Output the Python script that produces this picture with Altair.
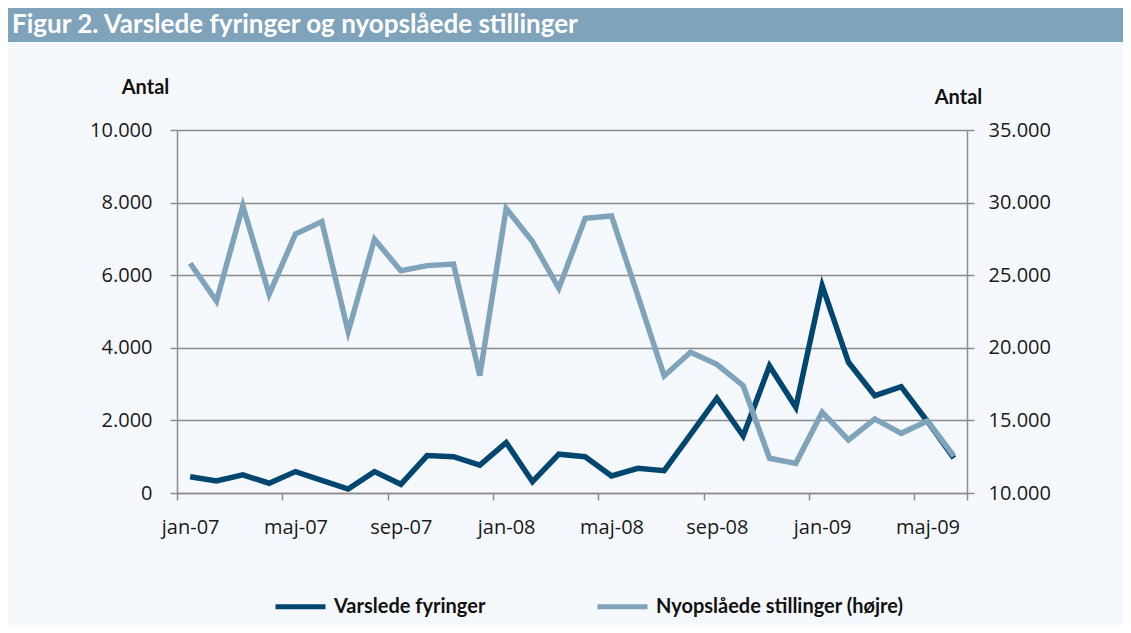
import altair as alt
import pandas as pd

months = ["jan-07", "feb-07", "mar-07", "apr-07", "maj-07", "jun-07", "jul-07", "aug-07",
          "sep-07", "okt-07", "nov-07", "dec-07", "jan-08", "feb-08", "mar-08", "apr-08",
          "maj-08", "jun-08", "jul-08", "aug-08", "sep-08", "okt-08", "nov-08", "dec-08",
          "jan-09", "feb-09", "mar-09", "apr-09", "maj-09", "jun-09"]
fyringer = [450, 330, 500, 270, 590, 350, 110, 590, 240, 1030, 1000, 770, 1390, 310, 1070,
            1000, 470, 680, 615, 1610, 2610, 1570, 3500, 2360, 5710, 3600, 2680, 2930, 1970, 960]
stillinger = [25820, 23220, 29770, 23680, 27840, 28690, 21110, 27470, 25310, 25660, 25770,
              18080, 29600, 27310, 24100, 28920, 29080, 23600, 18060, 19690, 18860, 17390,
              12390, 12040, 15560, 13650, 15100, 14110, 14960, 12550]
series_names = ["Varslede fyringer", "Nyopslåede stillinger (højre)"]
series_colors = ["#00466f", "#7fa3ba"]
left_ticks = [0, 2000, 4000, 6000, 8000, 10000]
right_ticks = [10000, 15000, 20000, 25000, 30000, 35000]
title_text = "Figur 2. Varslede fyringer og nyopslåede stillinger"
axis_title = "Antal"

df = pd.DataFrame({"idx": list(range(len(months))), "month": months,
                   "fyr": fyringer, "still": stillinger})

# x axis: labels at every 4th month centre, ticks at band edges
x_values = []
for i in range(0, len(months), 4):
    x_values += [i - 0.5, i]
x_values.append(len(months) - 0.5)
month_js = "[" + ",".join("'" + m + "'" for m in months) + "]"
x_label_expr = f"datum.value % 4 === 0 ? {month_js}[datum.value] : ''"
num_expr = "replace(format(datum.value, ','), ',', '.')"

GRID = "#8c8c8c"
FONT = "Open Sans"
BOLD = "Lato"

x_enc = alt.X("idx:Q", scale=alt.Scale(domain=[-0.5, len(months) - 0.5], nice=False, zero=False),
              axis=alt.Axis(values=x_values, labelExpr=x_label_expr, labelOverlap=False,
                            grid=False, title=None, tickSize=7, tickColor=GRID, tickWidth=1.5,
                            tickOpacity={"condition": {"test": "datum.value % 1 !== 0", "value": 1}, "value": 0},
                            domainColor=GRID, domainWidth=1.5, labelPadding=17))

color_enc = alt.Color("series:N", scale=alt.Scale(domain=series_names, range=series_colors),
                      legend=alt.Legend(orient="none", legendX=96, legendY=449, direction="horizontal",
                                        title=None, symbolType="stroke", symbolSize=2500,
                                        symbolStrokeWidth=5, labelFont=BOLD, labelFontWeight="bold",
                                        labelFontSize=20, labelColor="#111111", labelOffset=6,
                                        columnPadding=101, labelLimit=400))

base = alt.Chart(df)

dark = base.transform_calculate(series="'Varslede fyringer'").mark_line(strokeWidth=5.5).encode(
    x=x_enc,
    y=alt.Y("fyr:Q", scale=alt.Scale(domain=[0, 10000], nice=False),
            axis=alt.Axis(values=left_ticks, labelExpr=num_expr, grid=True, gridColor=GRID,
                          gridWidth=1.4, domainColor=GRID, domainWidth=1.5, tickColor=GRID,
                          tickWidth=1.5, tickSize=7, labelPadding=18, title=axis_title,
                          titleAngle=0, titleX=-32, titleY=-37, titleAlign="center",
                          titleBaseline="alphabetic", titleFont=BOLD, titleFontSize=20,
                          titleFontWeight="bold", titleColor="#111111")),
    color=color_enc,
)

light = base.transform_calculate(series="'Nyopslåede stillinger (højre)'").mark_line(strokeWidth=5.5).encode(
    x=x_enc,
    y=alt.Y("still:Q", scale=alt.Scale(domain=[10000, 35000], nice=False, zero=False),
            axis=alt.Axis(orient="right", values=right_ticks, labelExpr=num_expr, grid=False,
                          domainColor=GRID, domainWidth=1.5, tickColor=GRID, tickWidth=1.5,
                          tickSize=7, labelPadding=14, title=axis_title, titleAngle=0,
                          titleX=-9, titleY=-27, titleAlign="center", titleBaseline="alphabetic",
                          titleFont=BOLD, titleFontSize=20, titleFontWeight="bold",
                          titleColor="#111111")),
    color=color_enc,
)

one = alt.Data(values=[{}])
bar = alt.Chart(one).mark_rect(color="#7fa3ba").encode(
    x=alt.value(-169), x2=alt.value(946), y=alt.value(-122), y2=alt.value(-88))
title = alt.Chart(one).mark_text(text=title_text, font=BOLD, fontWeight="bold", fontSize=26,
                                 color="white", align="left", baseline="alphabetic").encode(
    x=alt.value(-165), y=alt.value(-97))

chart = alt.layer(bar, title, dark, light).resolve_scale(y="independent").properties(
    width=790, height=363,
    autosize=alt.AutoSizeParams(type="none"),
    padding={"left": 169, "top": 122, "right": 156, "bottom": 132},
    background="#f5f9fd",
).configure_view(stroke=None).configure_axis(
    labelFont=FONT, labelFontSize=20, labelColor="#1a1a1a")

chart.save("out.html", embed_options={"renderer": "svg", "actions": False})
